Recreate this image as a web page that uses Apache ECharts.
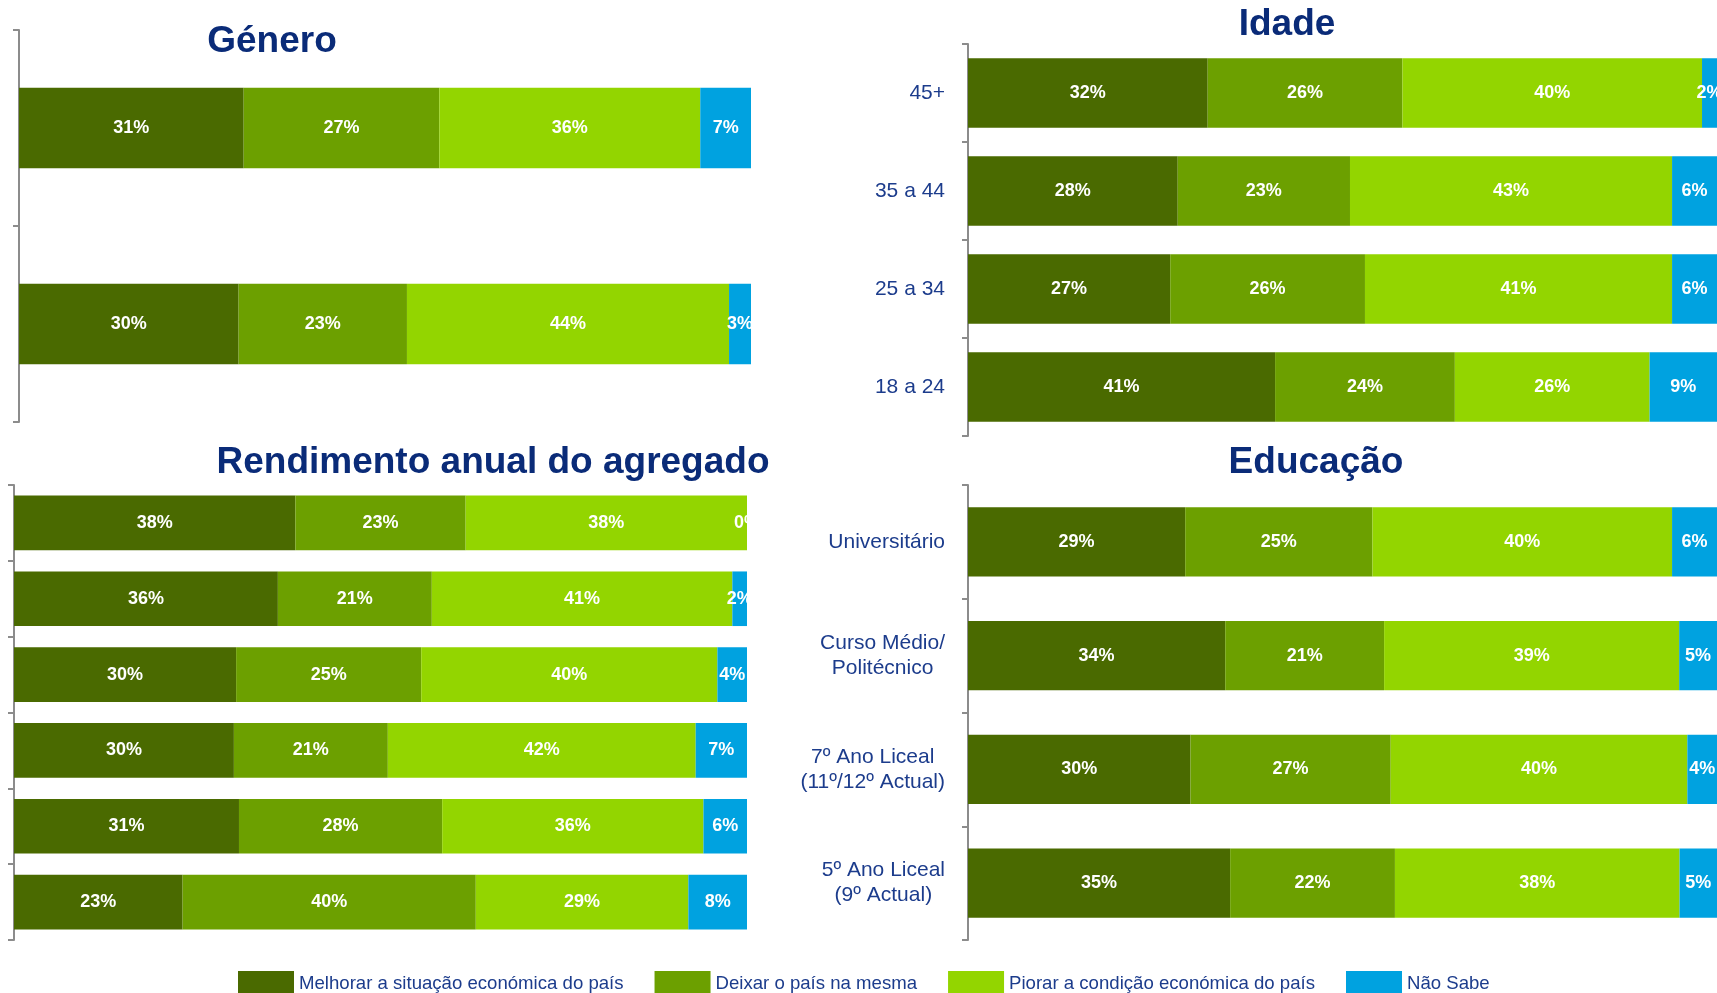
<!DOCTYPE html>
<html>
<head>
<meta charset="utf-8">
<script src="https://cdn.jsdelivr.net/npm/echarts@6/dist/echarts.min.js"></script>
<style>
html, body { margin: 0; padding: 0; background: #fff; }
#chart { width: 1717px; height: 993px; }
</style>
</head>
<body>
<div id="chart"></div>
<script>
// legendas e cores
var seriesNames = ['Melhorar a situação económica do país', 'Deixar o país na mesma', 'Piorar a condição económica do país', 'Não Sabe'];
var seriesColors = ['#4a6a00', '#6ca000', '#93d500', '#00a2e0'];

// Género (sem rótulos)
var generoCats = ['', ' '];
var generoMelhorar = [31, 30];
var generoDeixar = [27, 23];
var generoPiorar = [36, 44];
var generoNaoSabe = [7, 3];

// Idade
var idadeCats = ['45+', '35 a 44', '25 a 34', '18 a 24'];
var idadeMelhorar = [32, 28, 27, 41];
var idadeDeixar = [26, 23, 26, 24];
var idadePiorar = [40, 43, 41, 26];
var idadeNaoSabe = [2, 6, 6, 9];

// Rendimento anual do agregado (sem rótulos)
var rendCats = ['', ' ', '  ', '   ', '    ', '     '];
var rendMelhorar = [38, 36, 30, 30, 31, 23];
var rendDeixar = [23, 21, 25, 21, 28, 40];
var rendPiorar = [38, 41, 40, 42, 36, 29];
var rendNaoSabe = [0, 2, 4, 7, 6, 8];

// Educação
var eduCats = ['Universitário', 'Curso Médio/\nPolitécnico', '7º Ano Liceal\n(11º/12º Actual)', '5º Ano Liceal\n(9º Actual)'];
var eduMelhorar = [29, 34, 30, 35];
var eduDeixar = [25, 21, 27, 22];
var eduPiorar = [40, 39, 40, 38];
var eduNaoSabe = [6, 5, 4, 5];

var navyTitle = '#0a2b78';
var navyText = '#1c3c8c';
var axisGrey = '#8c8c8c';

var panels = [
	{ title: 'Género', tx: 272, ty: 42, cats: generoCats, data: [generoMelhorar, generoDeixar, generoPiorar, generoNaoSabe],
	  grid: { left: 19, top: 30, width: 732, height: 392 }, gap: '59%', labels: false },
	{ title: 'Idade', tx: 1287, ty: 25, cats: idadeCats, data: [idadeMelhorar, idadeDeixar, idadePiorar, idadeNaoSabe],
	  grid: { left: 968, top: 44, width: 750, height: 392 }, gap: '29%', labels: true },
	{ title: 'Rendimento anual do agregado', tx: 493, ty: 463, cats: rendCats, data: [rendMelhorar, rendDeixar, rendPiorar, rendNaoSabe],
	  grid: { left: 14, top: 485, width: 733, height: 455 }, gap: '28%', labels: false },
	{ title: 'Educação', tx: 1316, ty: 463, cats: eduCats, data: [eduMelhorar, eduDeixar, eduPiorar, eduNaoSabe],
	  grid: { left: 968, top: 485, width: 750, height: 455 }, gap: '39%', labels: true }
];

var grids = [], xAxes = [], yAxes = [], series = [], graphics = [];

panels.forEach(function(p, pi) {
	grids.push(p.grid);
	xAxes.push({ type: 'value', gridIndex: pi, min: 0, max: 100, show: false });
	yAxes.push({
		type: 'category', gridIndex: pi, data: p.cats, inverse: true,
		axisLine: { lineStyle: { color: axisGrey, width: 2 } },
		axisTick: { show: true, length: 6, lineStyle: { color: axisGrey, width: 2 } },
		axisLabel: {
			show: p.labels, margin: 23, color: navyText, fontSize: 21,
			fontFamily: 'Liberation Sans, Arial, sans-serif',
			formatter: function(v) {
				return v.split('\n').map(function(l) { return '{c|' + l + '}'; }).join('\n');
			},
			rich: { c: { align: 'center', fontSize: 21, lineHeight: 25, color: navyText, fontFamily: 'Liberation Sans, Arial, sans-serif' } }
		}
	});
	// soma de cada linha para barras de 100%
	var sums = p.cats.map(function(c, i) {
		return p.data[0][i] + p.data[1][i] + p.data[2][i] + p.data[3][i];
	});
	p.data.forEach(function(vals, si) {
		series.push({
			type: 'bar', name: seriesNames[si], stack: 'p' + pi,
			xAxisIndex: pi, yAxisIndex: pi, barCategoryGap: p.gap,
			itemStyle: { color: seriesColors[si] },
			label: {
				show: true, position: 'inside', color: '#fff', fontWeight: 'bold', fontSize: 18,
				fontFamily: 'Liberation Sans, Arial, sans-serif',
				formatter: function(prm) { return vals[prm.dataIndex] + '%'; }
			},
			emphasis: { disabled: true },
			data: vals.map(function(v, i) { return v / sums[i] * 100; })
		});
	});
	graphics.push({
		type: 'text', x: p.tx, y: p.ty,
		style: { text: p.title, fill: navyTitle, font: 'bold 37px "Liberation Sans", Arial, sans-serif', align: 'center', verticalAlign: 'middle' }
	});
});

var chart = echarts.init(document.getElementById('chart'));
chart.setOption({
	animation: false,
	grid: grids,
	xAxis: xAxes,
	yAxis: yAxes,
	graphic: graphics,
	legend: {
		data: seriesNames, left: 233, top: 966, itemWidth: 56, itemHeight: 26, itemGap: 31,
		icon: 'rect', selectedMode: false,
		textStyle: { color: navyText, fontSize: 18.6, fontFamily: 'Liberation Sans, Arial, sans-serif' }
	},
	series: series
});
</script>
</body>
</html>
